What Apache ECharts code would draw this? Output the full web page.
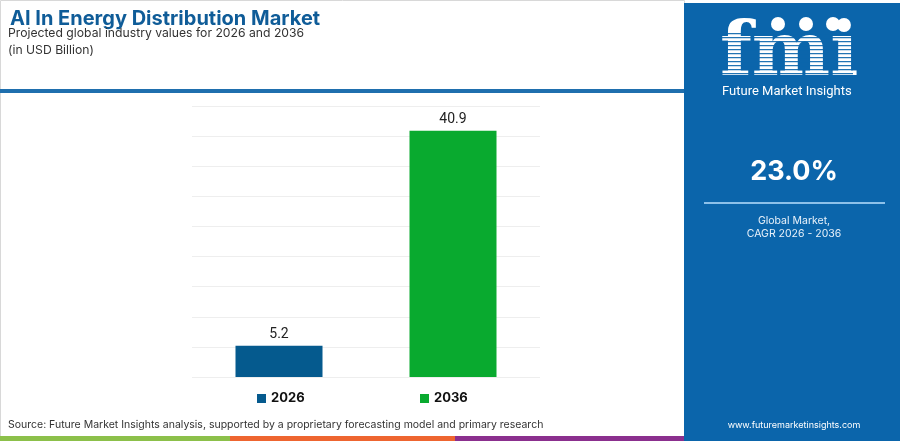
<!DOCTYPE html>
<html>
<head>
<meta charset="utf-8">
<script src="https://cdn.jsdelivr.net/npm/echarts@6/dist/echarts.min.js"></script>
<style>
html,body{margin:0;padding:0;background:#fff;}
#chart{width:900px;height:441px;}
</style>
</head>
<body>
<div id="chart"></div>
<script>
const categories = ['2026', '2036'];
const values = [5.2, 40.9];
const seriesColors = ['#055a8e', '#09aa2f'];
const cagrText = '23.0%';
const titleText = 'AI In Energy Distribution Market';
const subtitleLines = ['Projected global industry values for 2026 and 2036', '(in USD Billion)'];

const chart = echarts.init(document.getElementById('chart'), null, {renderer: 'canvas'});

const series = categories.map((c, i) => ({
  name: c,
  type: 'bar',
  stack: 'all',
  barWidth: '50%',
  data: categories.map((_, j) => j === i ? values[i] : '-'),
  itemStyle: {color: seriesColors[i]},
  label: {
    show: true, position: 'top', distance: 4,
    color: '#222', fontSize: 14, fontFamily: 'Roboto, sans-serif'
  }
}));

const legendLeft = [252, 415];

const panelColor = '#0b65ab';
const logoStripes = [];
for (let k = 0; k < 12; k++) {
  logoStripes.push({type: 'rect', shape: {x: 718, y: 33 + k * 4, width: 135, height: 1.2}, style: {fill: panelColor, opacity: 0.9}, z: 10});
}

const option = {
  animation: false,
  grid: {left: 192, right: 360, top: 106, bottom: 64},
  xAxis: {
    type: 'category', data: categories,
    axisLine: {show: false}, axisTick: {show: false}, axisLabel: {show: false}
  },
  yAxis: {
    type: 'value', min: 0, max: 45, interval: 5,
    axisLabel: {show: false}, axisLine: {show: false}, axisTick: {show: false},
    splitLine: {lineStyle: {color: '#eeeeee', width: 1}}
  },
  legend: categories.map((c, i) => ({
    data: [c], left: legendLeft[i], top: 387,
    itemWidth: 9, itemHeight: 9, icon: 'rect', itemGap: 4,
    textStyle: {fontSize: 13, fontWeight: 'bold', color: '#111', fontFamily: 'Inter, sans-serif'}
  })),
  series: series,
  graphic: [
    {type: 'rect', shape: {x: 0.5, y: 0.5, width: 684, height: 440}, style: {fill: 'none', stroke: '#d8d8d8', lineWidth: 1}, silent: true, z: 0},
    {type: 'text', left: 10, top: 9, style: {text: titleText, fontSize: 20, fontWeight: 'bold', fill: '#0f5c98', fontFamily: 'Inter, sans-serif'}},
    {type: 'text', left: 8, top: 27, style: {text: subtitleLines[0], fontSize: 12.2, fill: '#333', fontFamily: 'Inter, sans-serif'}},
    {type: 'text', left: 8, top: 44, style: {text: subtitleLines[1], fontSize: 12.2, fill: '#333', fontFamily: 'Inter, sans-serif'}},
    {type: 'rect', shape: {x: 0, y: 89, width: 685, height: 4}, style: {fill: '#1f6fae'}},
    {type: 'text', left: 8, top: 419, style: {text: 'Source: Future Market Insights analysis, supported by a proprietary forecasting model and primary research', fontSize: 10.5, fill: '#333', fontFamily: 'Inter, sans-serif'}},
    {type: 'rect', shape: {x: 0, y: 436, width: 230, height: 5}, style: {fill: '#8cc04a'}},
    {type: 'rect', shape: {x: 230, y: 436, width: 225, height: 5}, style: {fill: '#ee6530'}},
    {type: 'rect', shape: {x: 455, y: 436, width: 230, height: 5}, style: {fill: '#8b2f8e'}},
    {type: 'rect', shape: {x: 684, y: 3, width: 216, height: 438}, style: {fill: panelColor}},
    {type: 'text', left: 720, top: 19, z: 5, style: {text: 'fmi', fontSize: 74, fontWeight: 'bold', fill: '#ffffff', fontFamily: 'DejaVu Serif, serif'}},
    {type: 'circle', z: 5, shape: {cx: 778, cy: 24, r: 7}, style: {fill: '#fff'}},
    {type: 'circle', z: 5, shape: {cx: 806, cy: 24, r: 7}, style: {fill: '#fff'}},
    {type: 'circle', z: 5, shape: {cx: 833, cy: 24, r: 7}, style: {fill: '#fff'}},
    ...logoStripes,
    {type: 'text', left: 722, top: 85, style: {text: 'Future Market Insights', fontSize: 13, fill: '#fff', fontFamily: 'Roboto, sans-serif'}},
    {type: 'text', x: 794, y: 172, style: {text: cagrText, fontSize: 27, fontWeight: 'bold', fill: '#fff', align: 'center', verticalAlign: 'middle', fontFamily: 'Inter, sans-serif'}},
    {type: 'rect', shape: {x: 704, y: 202, width: 181, height: 2}, style: {fill: '#8dc1ea'}},
    {type: 'text', x: 794, y: 221, style: {text: 'Global Market,', fontSize: 10.5, fill: '#e8f1fa', align: 'center', verticalAlign: 'middle', fontFamily: 'Inter, sans-serif'}},
    {type: 'text', x: 794, y: 234, style: {text: 'CAGR 2026 - 2036', fontSize: 10.5, fill: '#e8f1fa', align: 'center', verticalAlign: 'middle', fontFamily: 'Inter, sans-serif'}},
    {type: 'text', x: 794, y: 425, style: {text: 'www.futuremarketinsights.com', fontSize: 9, fill: '#fff', align: 'center', verticalAlign: 'middle', fontFamily: 'Inter, sans-serif'}}
  ]
};
chart.setOption(option);
</script>
</body>
</html>
